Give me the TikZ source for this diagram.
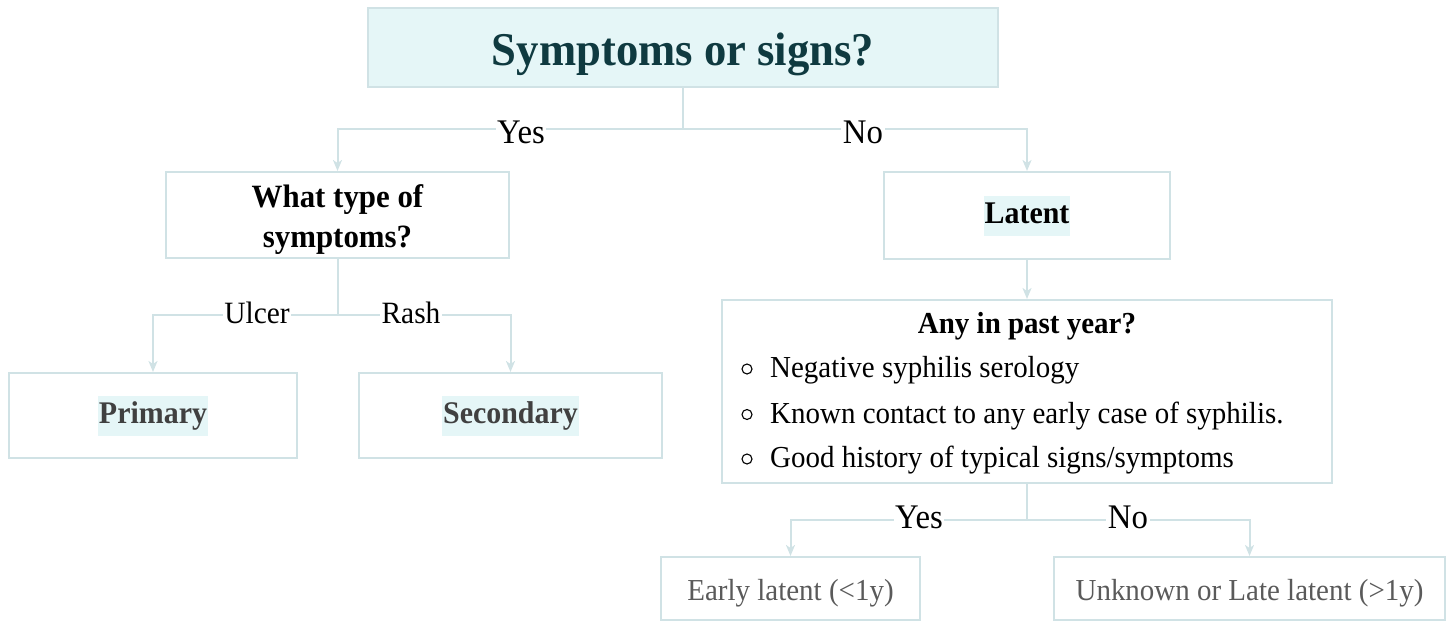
\documentclass[tikz,border=0pt]{standalone}
\usepackage{fontspec}
\setmainfont{Liberation Serif}[FakeStretch=0.95]
\usetikzlibrary{arrows.meta}

\definecolor{edgegray}{RGB}{208,226,229}
\definecolor{hlcyan}{RGB}{229,246,247}
\definecolor{titleteal}{RGB}{15,58,64}
\definecolor{boxgray}{RGB}{64,64,64}
\definecolor{leafgray}{RGB}{90,90,90}

% highlighted word
\newcommand{\hlt}[1]{{\setlength{\fboxsep}{1pt}\colorbox{hlcyan}{\strut #1}}}

\begin{document}
\begin{tikzpicture}[x=1pt,y=1pt,yscale=-1,
  box/.style={draw=edgegray,line width=2pt,inner sep=0pt},
  link/.style={draw=edgegray,line width=2pt,-{Stealth[length=11pt,width=9pt,inset=3pt]}},
  branch/.style={draw=edgegray,line width=2pt},
  lbl/.style={fill=white,inner xsep=1.5pt,inner ysep=0pt,text depth=0pt},
  big/.style={font=\fontsize{34.5}{41}\selectfont,text height=23pt},
  mid/.style={font=\fontsize{31}{37}\selectfont,text height=20.5pt},
  txt/.style={font=\fontsize{30.5}{36}\selectfont},
  boldtxt/.style={font=\fontsize{31.5}{38}\selectfont\bfseries},
]
\useasboundingbox (0,0) rectangle (1451,621);

%Shape: question box
\draw (683,47.5) node (top) [box,fill=hlcyan,minimum width=630,minimum height=79] {};
\draw (683,65) node (toptxt) [anchor=base,inner sep=0pt,text=titleteal,font=\fontsize{47}{56}\selectfont\bfseries] {Symptoms or signs?};

%Shape: first level
\draw (337.5,215) node (kind) [box,minimum width=343,minimum height=86] {};
\draw (337.5,219.4) node (kindtxt) [inner sep=0pt,align=center,font=\fontsize{32.5}{39.4}\selectfont\bfseries] {What type of\\symptoms?};
\draw (1027,215.5) node (lat) [box,minimum width=286,minimum height=87,boldtxt] {\hlt{Latent}};

%Shape: symptomatic stages
\draw (153,415.5) node (prim) [box,minimum width=288,minimum height=85,text=boxgray,boldtxt] {\hlt{Primary}};
\draw (510.5,415.5) node (sec) [box,minimum width=303,minimum height=85,text=boxgray,boldtxt] {\hlt{Secondary}};

%Shape: past year box
\draw (1027,391.5) node (past) [box,minimum width=610,minimum height=183] {};
\draw (1027,333) node (pastq) [anchor=base,inner sep=0pt,font=\fontsize{30.5}{36}\selectfont\bfseries] {Any in past year?};
\draw (770,377.5) node (crit1) [anchor=base west,txt,inner sep=0pt] {Negative syphilis serology};
\draw (770,423) node (crit2) [anchor=base west,txt,inner sep=0pt] {Known contact to any early case of syphilis.};
\draw (770,467.5) node (crit3) [anchor=base west,txt,inner sep=0pt] {Good history of typical signs/symptoms};
\foreach \yy in {369,414.5,459}
  \draw [line width=1.1pt] (747,\yy) circle (5);

%Shape: latent stages
\draw (790.5,588.5) node (early) [box,minimum width=259,minimum height=63] {};
\draw (1249.5,588.5) node (late) [box,minimum width=391,minimum height=63] {};
\draw (790.5,600) node (earlytxt) [anchor=base,inner sep=0pt,txt,text=leafgray] {Early latent (<1y)};
\draw (1249.5,600) node (latetxt) [anchor=base,inner sep=0pt,txt,text=leafgray] {Unknown or Late latent (>1y)};

%Connectors
\coordinate (j1) at (683,129);
\coordinate (j2) at (337.5,315);
\coordinate (j3) at (1027,520);
\draw [branch] (top.south) -- (j1);
\draw [link] (j1) -| (kind.north);
\draw [link] (j1) -| (lat.north);
\draw [link] (lat.south) -- (past.north);
\draw [branch] (kind.south) -- (j2);
\draw [link] (j2) -| (prim.north);
\draw [link] (j2) -| (sec.north);
\draw [branch] (past.south) -- (j3);
\draw [link] (j3) -| (early.north);
\draw [link] (j3) -| (late.north);

% Text Node
\draw (521,131.7) node (yes1) [lbl,big] {Yes};
\draw (863,131.7) node (no1) [lbl,big] {No};
\draw (257,313) node (ulcer) [lbl,mid] {Ulcer};
\draw (411,313) node (rash) [lbl,mid] {Rash};
\draw (919,516.5) node (yes2) [lbl,big] {Yes};
\draw (1128,516.5) node (no2) [lbl,big] {No};

\end{tikzpicture}
\end{document}
